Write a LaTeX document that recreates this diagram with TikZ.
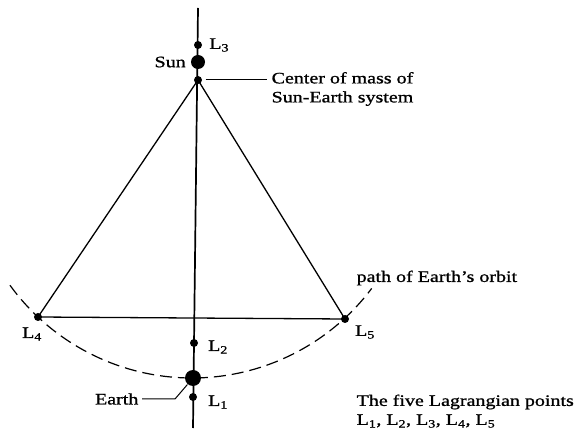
\documentclass[tikz,border=0pt]{standalone}
\usepackage{fontspec}
\setmainfont{Liberation Serif}[FakeStretch=1.25,FakeBold=1]
\usetikzlibrary{positioning}
\newcommand{\Lpt}[1]{L\textsubscript{#1}}
\tikzset{
  body/.style={circle,fill=black,inner sep=0pt,minimum size=#1},
  lpt/.style={body=8pt},
  lab/.style={font=\fontsize{16}{19}\selectfont,inner sep=1pt},
  orbit/.style={dash pattern=on 12pt off 6pt,line width=1.2pt},
  axis/.style={line width=1.7pt},
  leader/.style={line width=1pt}
}

\begin{document}
\begin{tikzpicture}[x=1pt,y=-1pt,line width=1.3pt]
  \useasboundingbox (0,0) rectangle (576,430);
  % the Sun--Earth line
  \coordinate (axtop) at (198,8);
  \coordinate (axbot) at (193,428);
  \draw[axis] (axtop) -- (axbot);
  \node[lpt] (L3) at (198,45) {};
  \node[body=14pt] (sun) at (198,62) {};
  \node[lpt] (cm) at (198,80) {};
  \node[lpt] (L4) at (38,317) {};
  \node[lpt] (L5) at (345,319) {};
  \node[lpt] (L2) at (194,343) {};
  \node[body=16pt] (earth) at (193,378) {};
  \node[lpt] (L1) at (193,397) {};
  % equilateral triangles
  \draw (L4.center) -- (cm.center) -- (L5.center) -- cycle;
  % orbit of the Earth
  \coordinate (oc) at (192,153);
  \draw[orbit] (oc) ++(144:225) arc[start angle=144,end angle=37,radius=225];
  % labels
  \node[lab,left=3pt of sun] (sunlab) {Sun};
  \node[lab,right=5pt of L3] (L3lab) {\Lpt3};
  \node[lab,anchor=west,align=left] (cmlab) at (270,89) {Center of mass of\\Sun-Earth system};
  \draw[leader,shorten <=3pt,shorten >=3pt] (cm) -- (cm -| cmlab.west);
  \node[lab] (L4lab) at (32,334) {\Lpt4};
  \node[lab] (L5lab) at (365,332) {\Lpt5};
  \node[lab] (L2lab) at (218,347) {\Lpt2};
  \node[lab] (L1lab) at (218,402) {\Lpt1};
  \node[lab,anchor=east] (earthlab) at (140,399) {Earth};
  \draw[leader,shorten <=2pt] (earthlab.east) -- ++(35,0) -- (earth);
  \node[lab,anchor=west] (orbitlab) at (355,278) {path of Earth's orbit};
  \node[lab,anchor=north west,align=left] (note) at (355,393) {The five Lagrangian points\\\Lpt1, \Lpt2, \Lpt3, \Lpt4, \Lpt5};
\end{tikzpicture}
\end{document}
